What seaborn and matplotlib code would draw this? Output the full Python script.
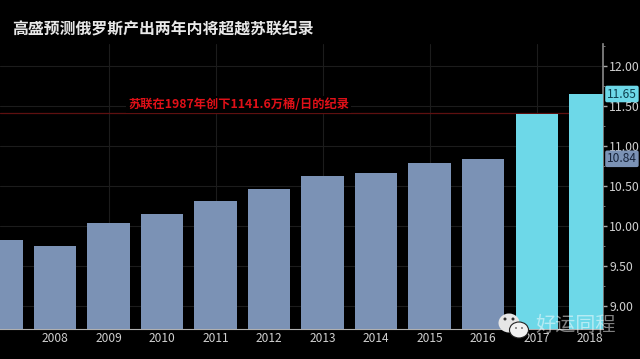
import matplotlib
matplotlib.use('Agg')
import matplotlib.pyplot as plt
from matplotlib.patches import Ellipse
from matplotlib.ticker import MultipleLocator
from matplotlib.transforms import blended_transform_factory
import pandas as pd
import seaborn as sns

# 数据（从图上读取，百万桶/日）
years = ['2007', '2008', '2009', '2010', '2011', '2012', '2013', '2014', '2015', '2016', '2017', '2018']
output = [9.83, 9.75, 10.04, 10.15, 10.31, 10.46, 10.62, 10.66, 10.79, 10.84, 11.40, 11.65]
kinds = ['actual'] * 10 + ['forecast'] * 2
year_labels = ['', '2008', '2009', '2010', '2011', '2012', '2013', '2014', '2015', '2016', '2017', '2018']
y_ticks = [9.0, 9.5, 10.0, 10.5, 11.0, 11.5, 12.0]
grid_years = ['2009', '2011', '2013', '2015', '2017']
record = 11.416

title = '高盛预测俄罗斯产出两年内将超越苏联纪录'
note = '苏联在1987年创下1141.6万桶/日的纪录'
watermark = '好运同程'

sns.set_theme(style='dark')
plt.rcParams['font.family'] = ['Noto Sans CJK SC', 'DejaVu Sans']
plt.rcParams['figure.facecolor'] = 'black'
plt.rcParams['axes.facecolor'] = 'black'

df = pd.DataFrame({'year': years, 'output': output, 'kind': kinds})

fig = plt.figure(figsize=(6.4, 3.59), dpi=100)
ax = fig.add_axes([0, 30 / 359, 603 / 640, 285 / 359])

sns.barplot(data=df, x='year', y='output', hue='kind', dodge=False, width=0.79,
            palette={'actual': '#7b92b5', 'forecast': '#6dd8e8'}, saturation=1,
            linewidth=0, edgecolor='none', legend=False, ax=ax, zorder=3)

ax.set_xlim(-0.028, 11.24)
ax.set_ylim(8.7125, 12.275)
ax.set_xlabel('')
ax.set_ylabel('')

# 网格线
ax.grid(False)
for v in y_ticks:
    ax.axhline(v, color='#1c1c1c', lw=0.8, zorder=1)
for yr in grid_years:
    ax.axvline(years.index(yr), color='#1c1c1c', lw=0.8, zorder=1)
ax.axhline(record, color='#5e1010', lw=0.9, zorder=2)

# 坐标轴
ax.yaxis.tick_right()
ax.set_yticks(y_ticks)
ax.set_yticklabels([f'{v:.2f}' for v in y_ticks])
ax.yaxis.set_minor_locator(MultipleLocator(0.25))
ax.tick_params(axis='y', which='major', length=3, width=1, color='#aaaaaa',
               labelsize=8.8, labelcolor='#d0d0d0', pad=1.5, right=True)
ax.tick_params(axis='y', which='minor', length=1.5, width=0.7, color='#777777', right=True)
ax.set_xticks(range(len(years)))
ax.set_xticklabels(year_labels)
ax.tick_params(axis='x', length=0, labelsize=8.6, labelcolor='#d0d0d0', pad=2.5)
for side in ['top', 'left']:
    ax.spines[side].set_visible(False)
ax.spines['right'].set_color('#8a8a8a')
ax.spines['right'].set_linewidth(1.2)
ax.spines['bottom'].set_color('#b0b0b0')
ax.spines['bottom'].set_linewidth(0.8)

# 最新值标签
trans = blended_transform_factory(fig.transFigure, ax.transData)
ax.text(607 / 640, output[-1], f'{output[-1]:.2f}', transform=trans, fontsize=8.6, color='#0d3f4f',
        va='center', ha='left', clip_on=False, zorder=6,
        bbox=dict(boxstyle='round,pad=0.15', fc='#6dd8e8', ec='none'))
ax.text(607 / 640, output[9], f'{output[9]:.2f}', transform=trans, fontsize=8.6, color='#16233a',
        va='center', ha='left', clip_on=False, zorder=6,
        bbox=dict(boxstyle='round,pad=0.15', fc='#7b92b5', ec='none'))

# 标题、注释、水印放在像素坐标的覆盖层上
top = fig.add_axes([0, 0, 1, 1], facecolor='none')
top.set_xlim(0, 640)
top.set_ylim(359, 0)
top.axis('off')
top.text(12, 29.5, title, fontsize=11.4, fontweight='bold', color='#e8e8e8', va='center', ha='left')
top.text(128, 104.5, note, fontsize=8.8, fontweight='bold', color='#e01018', va='center', ha='left',
         bbox=dict(boxstyle='square,pad=0.15', fc='black', ec='none'))
top.text(535, 325, watermark, fontsize=14.5, color='white', alpha=0.5, va='center', ha='left')

top.add_patch(Ellipse((509, 323), 21, 19, fc='#e6e6e6', ec='none', zorder=5))
top.add_patch(Ellipse((519, 330), 19, 16, fc='#f2f2f2', ec='#222222', lw=0.8, zorder=6))
for ex, ey in [(505, 319), (513, 319)]:
    top.add_patch(Ellipse((ex, ey), 3, 3, fc='#333333', ec='none', zorder=7))
for ex, ey in [(516, 328), (522, 328)]:
    top.add_patch(Ellipse((ex, ey), 2, 2, fc='#777777', ec='none', zorder=7))

fig.savefig('out.png', dpi=100, facecolor='black')
